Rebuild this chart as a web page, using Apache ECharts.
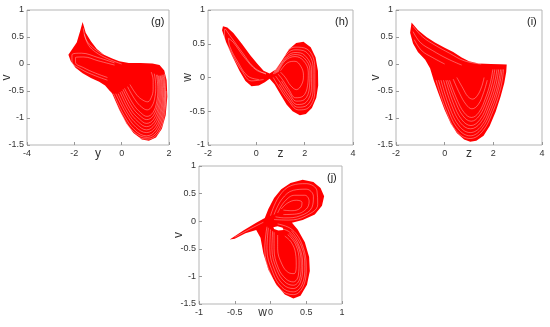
<!DOCTYPE html>
<html>
<head>
<meta charset="utf-8">
<script src="https://cdn.jsdelivr.net/npm/echarts@6/dist/echarts.min.js"></script>
<style>html,body{margin:0;padding:0;background:#fff}#c{width:550px;height:327px}</style>
</head>
<body>
<div id="c"></div>
<script>
// ---- tick labels ----
const gXTicks = [-4, -2, 0, 2];
const gYTicks = [-1.5, -1, -0.5, 0, 0.5, 1];
const hXTicks = [-2, 0, 2, 4];
const hYTicks = [-1, -0.5, 0, 0.5, 1];
const iXTicks = [-2, 0, 2, 4];
const iYTicks = [-1.5, -1, -0.5, 0, 0.5, 1];
const jXTicks = [-1, -0.5, 0, 0.5, 1];
const jYTicks = [-1.5, -1, -0.5, 0, 0.5, 1];

// ---- panel (g): y vs v ----
const gEnvelope = [[-1.65,0.78],[-1.52,0.58],[-1.3,0.42],[-1.05,0.28],[-0.75,0.17],[-0.4,0.1],[-0.1,0.05],[0.3,0.02],[0.8,0.02],[1.3,0.01],[1.6,-0.02],[1.8,-0.12],[1.9,-0.3],[1.93,-0.6],[1.86,-0.95],[1.7,-1.2],[1.45,-1.36],[1.15,-1.42],[0.85,-1.4],[0.5,-1.28],[0.2,-1.1],[-0.1,-0.85],[-0.4,-0.55],[-0.7,-0.4],[-0.95,-0.33],[-1.3,-0.26],[-1.65,-0.17],[-1.95,-0.07],[-2.15,0.05],[-2.25,0.17],[-2.1,0.27],[-1.9,0.4],[-1.76,0.6]];
const gGaps = [
  [[-0.5,-0.5],[0.0,-1.0],[0.5,-1.3],[1.1,-1.39],[1.55,-1.27],[1.8,-0.95],[1.88,-0.5]],
  [[-0.45,-0.52],[0.05,-0.97],[0.52,-1.26],[1.08,-1.36],[1.5,-1.25],[1.76,-0.92],[1.85,-0.5],[1.8,-0.18]],
  [[-0.35,-0.55],[0.1,-0.95],[0.55,-1.22],[1.05,-1.33],[1.45,-1.22],[1.72,-0.9],[1.82,-0.5],[1.75,-0.2]],
  [[-0.25,-0.55],[0.18,-0.92],[0.6,-1.17],[1.05,-1.27],[1.43,-1.17],[1.68,-0.87],[1.78,-0.5],[1.7,-0.2]],
  [[-0.15,-0.55],[0.25,-0.9],[0.65,-1.12],[1.05,-1.22],[1.4,-1.12],[1.64,-0.85],[1.73,-0.5],[1.66,-0.22]],
  [[-0.07,-0.52],[0.32,-0.87],[0.7,-1.07],[1.05,-1.16],[1.38,-1.07],[1.6,-0.81],[1.68,-0.49],[1.62,-0.21]],
  [[0.0,-0.5],[0.4,-0.85],[0.75,-1.02],[1.05,-1.1],[1.35,-1.02],[1.56,-0.78],[1.63,-0.48],[1.57,-0.22]],
  [[0.06,-0.47],[0.45,-0.8],[0.78,-0.96],[1.06,-1.03],[1.33,-0.96],[1.52,-0.74],[1.58,-0.46],[1.52,-0.2]],
  [[0.12,-0.45],[0.5,-0.75],[0.8,-0.9],[1.07,-0.97],[1.32,-0.9],[1.48,-0.7],[1.53,-0.45],[1.47,-0.2]],
  [[0.25,-0.42],[0.58,-0.67],[0.85,-0.8],[1.08,-0.85],[1.28,-0.78],[1.41,-0.6],[1.44,-0.4],[1.38,-0.18]],
  [[0.35,-0.38],[0.65,-0.58],[0.9,-0.67],[1.1,-0.7],[1.25,-0.62],[1.33,-0.47],[1.33,-0.3],[1.25,-0.15]],
  [[-0.3,0.02],[-1.0,0.12],[-1.7,0.2],[-2.1,0.17],[-2.1,0.05],[-1.7,-0.1],[-1.1,-0.22],[-0.6,-0.3]],
  [[-0.3,-0.02],[-1.0,0.06],[-1.6,0.13],[-1.95,0.12],[-1.95,0.03],[-1.6,-0.07],[-1.1,-0.17],[-0.6,-0.25]],
  [[-1.58,0.55],[-1.4,0.35],[-1.1,0.22],[-0.6,0.1],[0.0,0.0]],
  [[-1.62,0.66],[-1.5,0.45],[-1.2,0.3],[-0.8,0.18]]
];

// ---- panel (h): z vs w ----
const hEnvelope = [[-1.38,0.76],[-1.2,0.74],[-0.95,0.66],[-0.6,0.5],[-0.25,0.33],[0.05,0.2],[0.3,0.1],[0.55,0.06],[0.8,0.12],[1.05,0.25],[1.35,0.42],[1.65,0.51],[1.95,0.53],[2.25,0.45],[2.45,0.3],[2.55,0.1],[2.56,-0.12],[2.48,-0.3],[2.3,-0.45],[2.05,-0.54],[1.8,-0.56],[1.5,-0.5],[1.25,-0.4],[1.0,-0.25],[0.75,-0.1],[0.55,-0.02],[0.35,-0.07],[0.1,-0.12],[-0.2,-0.13],[-0.45,-0.05],[-0.7,0.1],[-1.0,0.32],[-1.25,0.52],[-1.42,0.7]];
const hGaps = [
  [[0.7,0.05],[1.1,0.3],[1.6,0.45],[2.1,0.42],[2.42,0.15],[2.42,-0.2],[2.15,-0.45],[1.75,-0.48],[1.3,-0.33],[0.9,-0.12],[0.7,0.0]],
  [[0.75,0.05],[1.12,0.29],[1.6,0.41],[2.05,0.38],[2.35,0.14],[2.35,-0.18],[2.1,-0.41],[1.72,-0.44],[1.32,-0.3],[0.95,-0.1]],
  [[0.8,0.06],[1.15,0.27],[1.6,0.37],[2.0,0.33],[2.28,0.12],[2.28,-0.15],[2.05,-0.37],[1.7,-0.4],[1.35,-0.27],[1.0,-0.08],[0.8,0.02]],
  [[0.85,0.07],[1.17,0.26],[1.6,0.34],[1.98,0.29],[2.22,0.1],[2.2,-0.14],[1.98,-0.33],[1.66,-0.35],[1.35,-0.22],[1.04,-0.05]],
  [[0.9,0.08],[1.2,0.25],[1.6,0.31],[1.95,0.25],[2.15,0.08],[2.12,-0.12],[1.92,-0.28],[1.62,-0.3],[1.35,-0.18],[1.08,-0.03],[0.9,0.05]],
  [[1.0,0.1],[1.3,0.22],[1.6,0.24],[1.85,0.16],[1.95,0.03],[1.88,-0.1],[1.66,-0.18],[1.42,-0.12],[1.2,0.0],[1.0,0.08]],
  [[0.4,0.05],[-0.1,0.15],[-0.6,0.38],[-1.05,0.6],[-1.3,0.72],[-1.32,0.62],[-1.05,0.38],[-0.6,0.1],[-0.2,-0.05],[0.3,-0.03]],
  [[0.4,0.06],[0.0,0.11],[-0.5,0.3],[-0.95,0.52],[-1.15,0.58],[-1.1,0.46],[-0.75,0.22],[-0.35,0.02],[0.1,-0.03]]
];

// ---- panel (i): z vs v ----
const iEnvelope = [[-1.36,0.77],[-1.1,0.63],[-0.75,0.5],[-0.4,0.4],[0.0,0.3],[0.35,0.22],[0.7,0.12],[1.0,0.05],[1.4,0.01],[1.9,0.0],[2.3,-0.005],[2.55,-0.01],[2.53,-0.15],[2.45,-0.35],[2.3,-0.6],[2.1,-0.88],[1.85,-1.15],[1.6,-1.33],[1.3,-1.42],[1.05,-1.44],[0.8,-1.4],[0.5,-1.28],[0.25,-1.1],[0.0,-0.85],[-0.25,-0.55],[-0.45,-0.3],[-0.6,-0.08],[-0.8,0.08],[-1.1,0.22],[-1.3,0.38],[-1.42,0.58]];
const iGaps = [
  [[-0.35,-0.3],[0.05,-0.85],[0.5,-1.25],[1.05,-1.38],[1.55,-1.25],[1.98,-0.88],[2.3,-0.45],[2.42,-0.1]],
  [[-0.25,-0.3],[0.12,-0.82],[0.55,-1.2],[1.05,-1.33],[1.52,-1.2],[1.93,-0.84],[2.23,-0.43],[2.36,-0.1]],
  [[-0.15,-0.3],[0.2,-0.8],[0.6,-1.15],[1.05,-1.27],[1.5,-1.15],[1.88,-0.8],[2.17,-0.42],[2.3,-0.1]],
  [[-0.05,-0.3],[0.28,-0.76],[0.65,-1.09],[1.06,-1.2],[1.47,-1.09],[1.83,-0.76],[2.1,-0.4],[2.22,-0.1]],
  [[0.05,-0.3],[0.35,-0.72],[0.7,-1.03],[1.08,-1.14],[1.45,-1.03],[1.78,-0.72],[2.03,-0.38],[2.15,-0.1]],
  [[0.12,-0.3],[0.43,-0.68],[0.75,-0.96],[1.09,-1.06],[1.42,-0.96],[1.73,-0.67],[1.95,-0.36],[2.06,-0.1]],
  [[0.2,-0.3],[0.5,-0.65],[0.8,-0.9],[1.1,-0.99],[1.4,-0.9],[1.68,-0.63],[1.88,-0.34],[1.98,-0.1]],
  [[0.35,-0.28],[0.62,-0.55],[0.88,-0.75],[1.12,-0.83],[1.38,-0.75],[1.6,-0.53],[1.75,-0.3]],
  [[0.5,-0.25],[0.75,-0.45],[0.95,-0.6],[1.15,-0.65],[1.35,-0.58],[1.52,-0.42],[1.62,-0.25]],
  [[-1.3,0.7],[-0.9,0.5],[-0.4,0.35],[0.2,0.2],[0.8,0.06],[1.5,0.0]],
  [[-1.3,0.6],[-1.0,0.4],[-0.5,0.25],[0.1,0.1],[0.7,-0.02]],
  [[-1.25,0.45],[-0.95,0.25],[-0.5,0.12],[0.0,0.0]]
];

// ---- panel (j): w vs v ----
const jEnvelope = [[-0.57,-0.33],[-0.38,-0.17],[-0.2,-0.03],[-0.08,0.06],[-0.03,0.22],[0.05,0.42],[0.15,0.58],[0.28,0.69],[0.45,0.75],[0.6,0.71],[0.7,0.6],[0.75,0.45],[0.72,0.28],[0.62,0.12],[0.45,0.02],[0.3,-0.03],[0.38,-0.15],[0.48,-0.38],[0.54,-0.65],[0.55,-0.9],[0.51,-1.15],[0.42,-1.35],[0.32,-1.4],[0.2,-1.33],[0.08,-1.15],[-0.03,-0.88],[-0.1,-0.58],[-0.14,-0.3],[-0.2,-0.16],[-0.35,-0.22],[-0.5,-0.32]];
const jGaps = [
  [[0.0,0.1],[0.12,0.45],[0.3,0.65],[0.5,0.68],[0.65,0.55],[0.66,0.3],[0.5,0.1],[0.25,0.02],[0.05,0.03]],
  [[0.05,0.12],[0.16,0.4],[0.32,0.56],[0.5,0.58],[0.6,0.45],[0.58,0.25],[0.42,0.1],[0.2,0.06],[0.07,0.08]],
  [[0.1,0.15],[0.2,0.36],[0.34,0.47],[0.48,0.47],[0.54,0.36],[0.5,0.22],[0.36,0.13],[0.18,0.12]],
  [[0.15,0.22],[0.24,0.33],[0.36,0.38],[0.44,0.34],[0.42,0.24],[0.3,0.19],[0.18,0.2]],
  [[-0.05,-0.1],[-0.08,-0.5],[0.0,-0.95],[0.15,-1.25],[0.32,-1.33],[0.45,-1.2],[0.5,-0.85],[0.45,-0.45],[0.3,-0.15],[0.1,-0.05]],
  [[-0.03,-0.12],[-0.05,-0.5],[0.03,-0.92],[0.16,-1.2],[0.32,-1.28],[0.44,-1.15],[0.48,-0.82],[0.43,-0.45],[0.29,-0.17]],
  [[0.0,-0.15],[-0.01,-0.5],[0.06,-0.9],[0.18,-1.15],[0.32,-1.22],[0.42,-1.1],[0.45,-0.8],[0.4,-0.45],[0.27,-0.2],[0.1,-0.12]],
  [[0.03,-0.18],[0.02,-0.5],[0.09,-0.88],[0.2,-1.1],[0.32,-1.16],[0.41,-1.04],[0.43,-0.76],[0.38,-0.44],[0.26,-0.22]],
  [[0.05,-0.2],[0.05,-0.5],[0.11,-0.85],[0.22,-1.05],[0.32,-1.1],[0.39,-0.98],[0.4,-0.72],[0.35,-0.42],[0.24,-0.24]],
  [[0.1,-0.25],[0.1,-0.5],[0.16,-0.78],[0.25,-0.93],[0.33,-0.95],[0.36,-0.8],[0.35,-0.58],[0.29,-0.38],[0.2,-0.27]],
  [[-0.5,-0.29],[-0.3,-0.15],[-0.1,-0.02]]
];
const jHole = [[0.04,-0.11],[0.1,-0.09],[0.17,-0.12],[0.18,-0.16],[0.11,-0.17],[0.05,-0.14]];

// ---- panel descriptors ----
const panels = [
  {tag:'(g)', xName:'y', yName:'v', xt:gXTicks, yt:gYTicks, env:gEnvelope, gaps:gGaps, grid:{left:27, top:10, width:142, height:135}, tagPos:[151,16]},
  {tag:'(h)', xName:'z', yName:'w', xt:hXTicks, yt:hYTicks, env:hEnvelope, gaps:hGaps, grid:{left:208, top:10, width:145, height:135}, tagPos:[335,16]},
  {tag:'(i)', xName:'z', yName:'v', xt:iXTicks, yt:iYTicks, env:iEnvelope, gaps:iGaps, grid:{left:396, top:10, width:146, height:135}, tagPos:[527,16]},
  {tag:'(j)', xName:'w', yName:'v', xt:jXTicks, yt:jYTicks, env:jEnvelope, gaps:jGaps, grid:{left:199, top:166, width:143, height:138}, tagPos:[327,172], hole:jHole}
];

const RED = '#ff0000';
const grids = [], xAxes = [], yAxes = [], series = [], graphics = [];
const labelStyle = {fontFamily:'Liberation Sans, Arial, sans-serif', fontSize:9, color:'#333'};

function polygonSeries(idx, pts, fill) {
  return {
    type:'custom', xAxisIndex:idx, yAxisIndex:idx, silent:true, animation:false,
    data: pts, encode:{x:0, y:1},
    renderItem: function (params, api) {
      if (params.dataIndex !== 0) return null;
      return {type:'polygon', shape:{points: pts.map(function (p) { return api.coord(p); })}, style:{fill: fill}};
    }
  };
}

panels.forEach(function (p, k) {
  grids.push(Object.assign({show:true, borderColor:'#b5b5b5', borderWidth:1, backgroundColor:'#fff'}, p.grid));
  xAxes.push({
    type:'value', gridIndex:k, min:p.xt[0], max:p.xt[p.xt.length-1], interval:p.xt[1]-p.xt[0],
    name:p.xName, nameLocation:'middle', nameGap:3, nameMoveOverlap:false,
    nameTextStyle:{fontFamily:'Liberation Sans, Arial, sans-serif', fontSize:12, color:'#333', padding: k===3 ? [0,16,0,0] : 0},
    axisLine:{show:false, onZero:false}, splitLine:{show:false},
    axisTick:{inside:true, length:3, lineStyle:{color:'#999'}},
    axisLabel:Object.assign({margin:4, showMinLabel:true, showMaxLabel:true}, labelStyle)
  });
  yAxes.push({
    type:'value', gridIndex:k, min:p.yt[0], max:p.yt[p.yt.length-1], interval:p.yt[1]-p.yt[0],
    name:p.yName, nameLocation:'middle', nameGap:14, nameMoveOverlap:false,
    nameTextStyle:{fontFamily:'Liberation Sans, Arial, sans-serif', fontSize:12, color:'#333'},
    axisLine:{show:false, onZero:false}, splitLine:{show:false},
    axisTick:{inside:true, length:3, lineStyle:{color:'#999'}},
    axisLabel:Object.assign({margin:3, showMinLabel:true, showMaxLabel:true}, labelStyle)
  });
  series.push(polygonSeries(k, p.env, RED));
  p.gaps.forEach(function (g) {
    series.push({
      type:'line', xAxisIndex:k, yAxisIndex:k, data:g, smooth:0.4, showSymbol:false, silent:true, animation:false,
      lineStyle:{color:'#fff', width:0.6, opacity:0.6}
    });
  });
  if (p.hole) series.push(polygonSeries(k, p.hole, '#fff'));
  graphics.push({type:'text', left:p.tagPos[0], top:p.tagPos[1],
    style:{text:p.tag, font:'11px "Liberation Sans", Arial, sans-serif', fill:'#222'}});
});

const chart = echarts.init(document.getElementById('c'), null, {renderer:'canvas'});
chart.setOption({animation:false, grid:grids, xAxis:xAxes, yAxis:yAxes, series:series, graphic:graphics});
</script>
</body>
</html>
